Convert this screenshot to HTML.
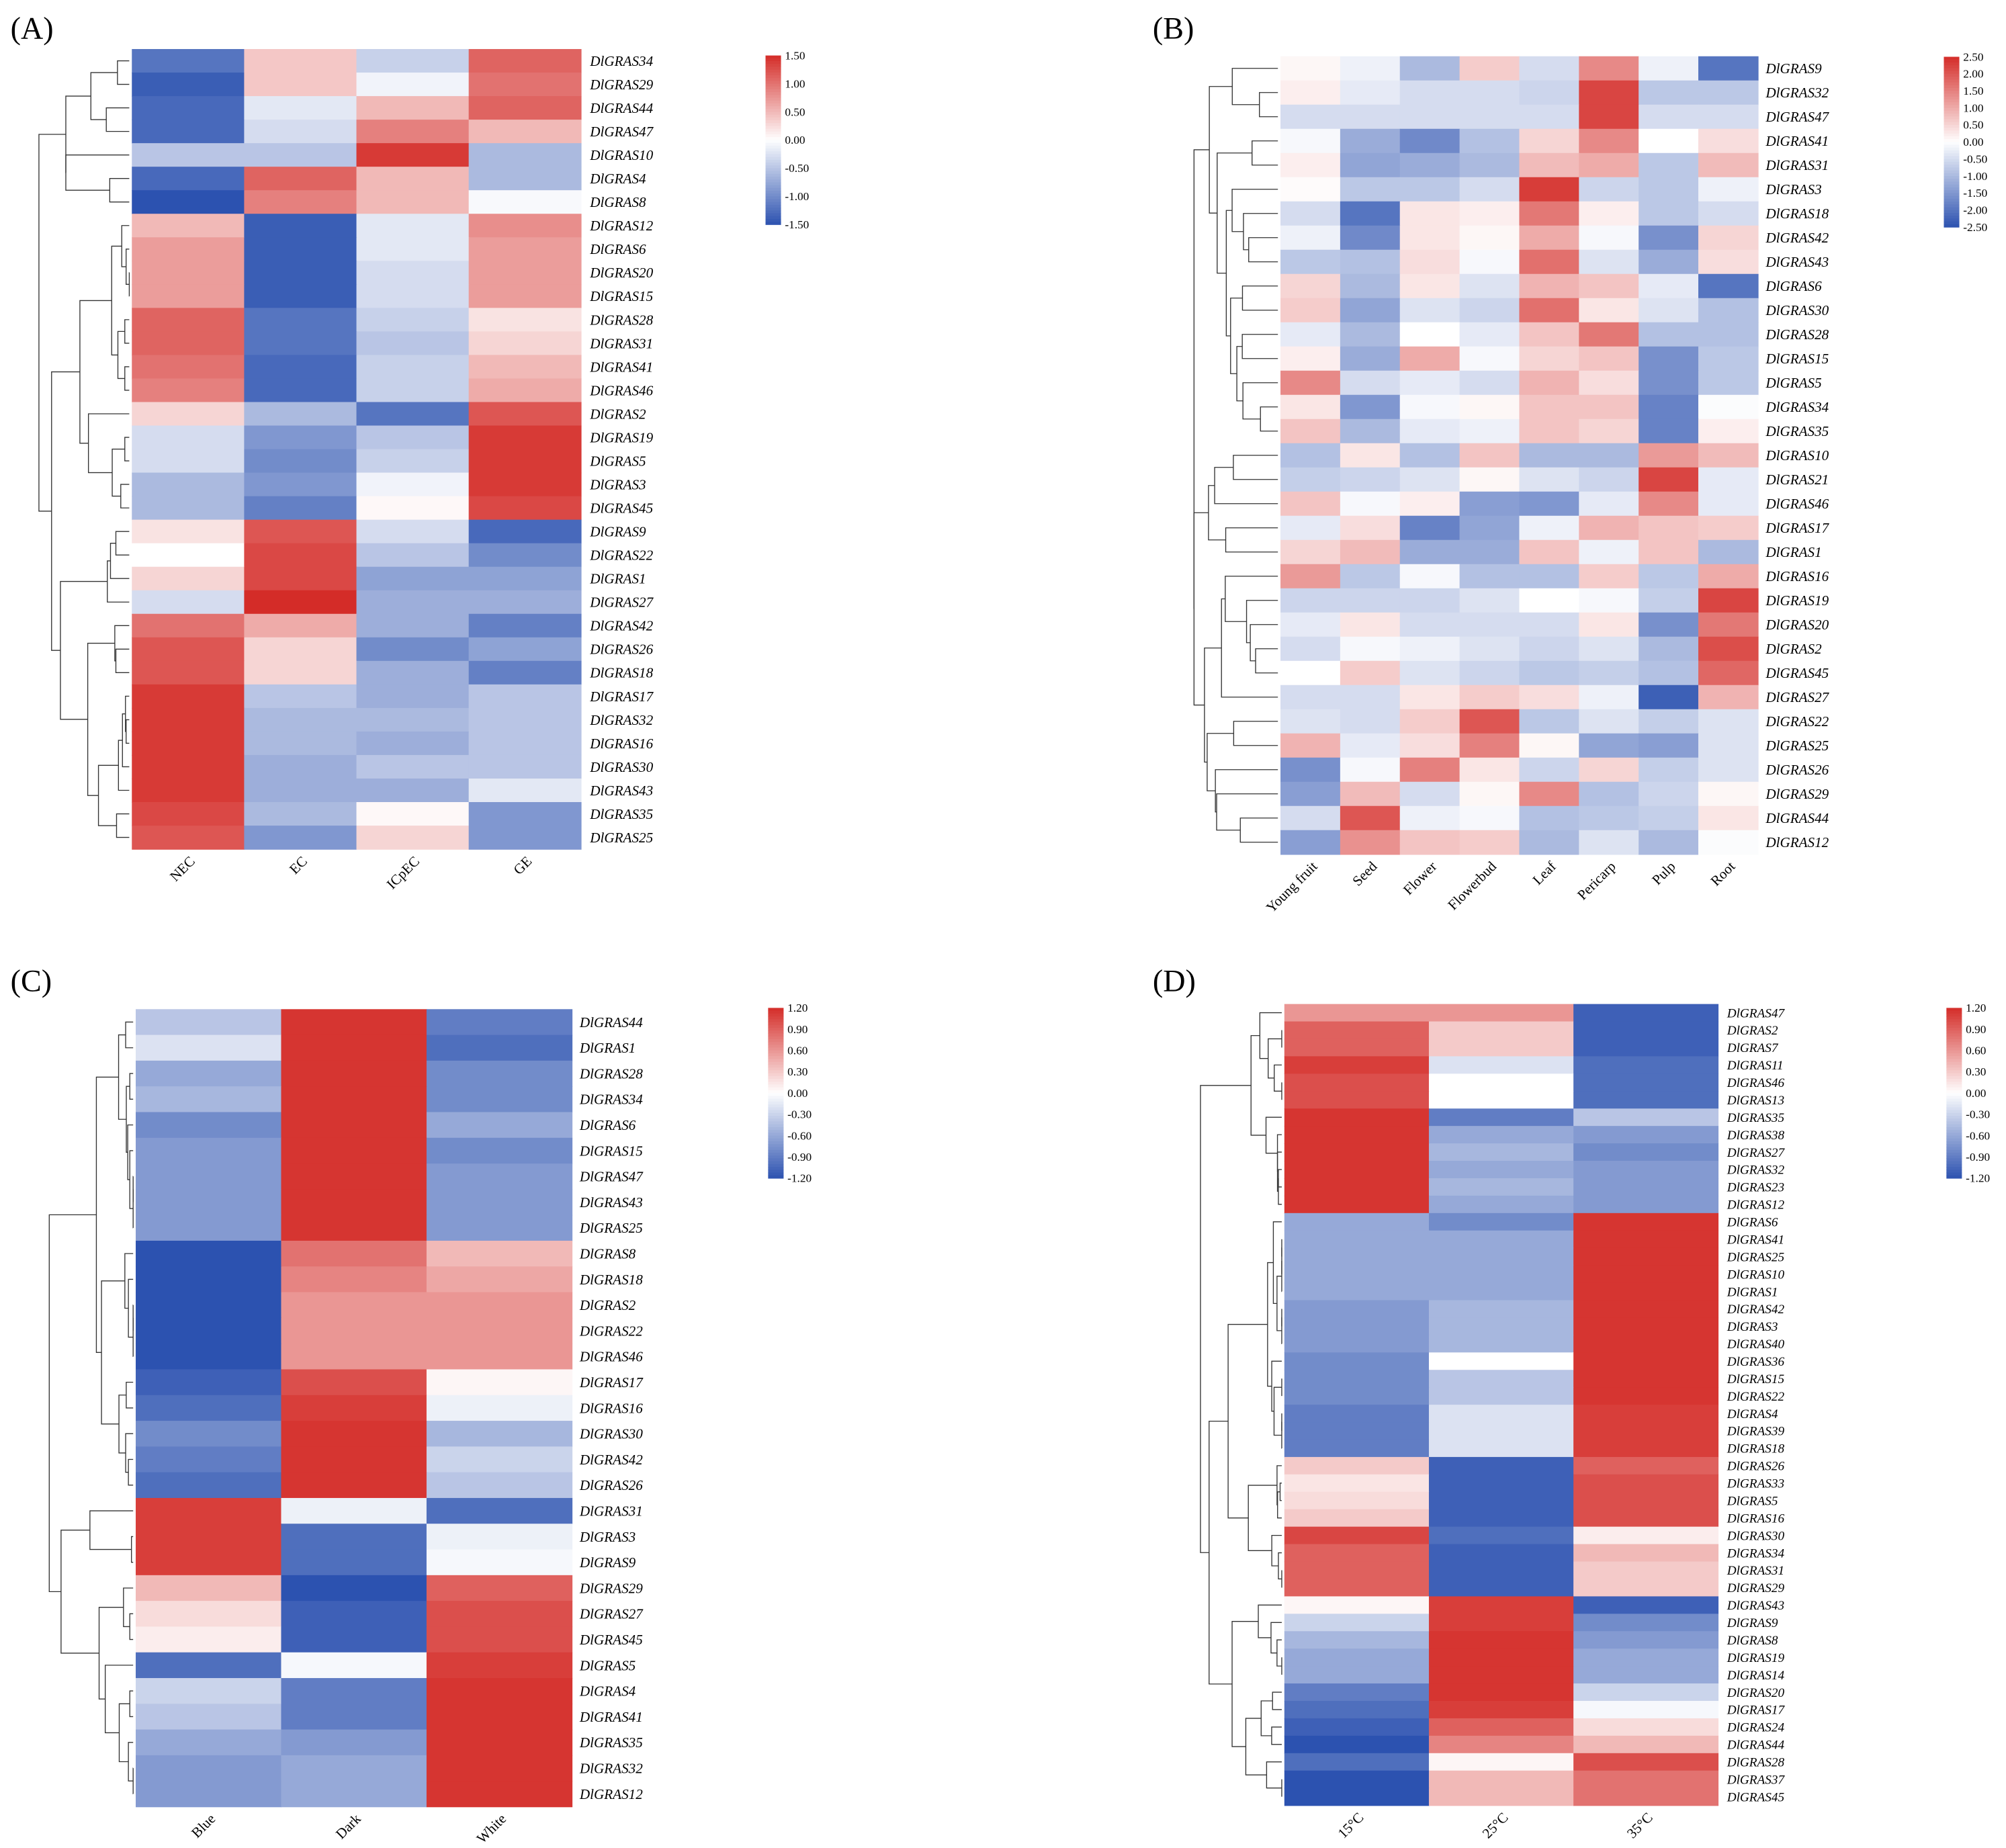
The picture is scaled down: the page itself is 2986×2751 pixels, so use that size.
<!DOCTYPE html>
<html><head><meta charset="utf-8"><style>
html,body{margin:0;padding:0;background:#fff;}
svg{display:block;}
</style></head><body>
<svg id="fig" xmlns="http://www.w3.org/2000/svg" width="2986" height="2751" viewBox="0 0 1554 1432">
<rect x="0" y="0" width="1554" height="1432" fill="#fff"/>
</svg>
<script>
const colsA = ["NEC","EC","ICpEC","GE"];
const rowsA = ["34","29","44","47","10","4","8","12","6","20","15","28","31","41","46","2","19","5","3","45","9","22","1","27","42","26","18","17","32","16","30","43","35","25"];
const valsA = [
[-1.2,0.4,-0.4,1.1],[-1.4,0.4,-0.1,1.0],[-1.3,-0.2,0.5,1.1],[-1.3,-0.3,0.9,0.5],[-0.5,-0.5,1.4,-0.6],
[-1.3,1.1,0.5,-0.6],[-1.5,0.9,0.5,-0.05],[0.5,-1.4,-0.2,0.8],[0.7,-1.4,-0.2,0.7],[0.7,-1.4,-0.3,0.7],
[0.7,-1.4,-0.3,0.7],[1.1,-1.2,-0.4,0.2],[1.1,-1.2,-0.5,0.3],[1.0,-1.3,-0.4,0.5],[0.9,-1.3,-0.4,0.6],
[0.3,-0.6,-1.2,1.2],[-0.3,-0.9,-0.5,1.4],[-0.3,-1.0,-0.4,1.4],[-0.6,-0.9,-0.1,1.4],[-0.6,-1.1,0.05,1.3],
[0.2,1.2,-0.3,-1.3],[0,1.3,-0.5,-1.0],[0.3,1.3,-0.8,-0.8],[-0.3,1.5,-0.7,-0.7],[1.0,0.6,-0.7,-1.1],
[1.2,0.3,-1.0,-0.8],[1.2,0.3,-0.7,-1.1],[1.4,-0.5,-0.7,-0.5],[1.4,-0.6,-0.6,-0.5],[1.4,-0.6,-0.7,-0.5],
[1.4,-0.7,-0.5,-0.5],[1.4,-0.7,-0.7,-0.2],[1.3,-0.6,0.05,-0.9],[1.2,-0.9,0.3,-0.9]];
const ticksA = [1.5,1.0,0.5,0.0,-0.5,-1.0,-1.5];

const colsB = ["Young fruit","Seed","Flower","Flowerbud","Leaf","Pericarp","Pulp","Root"];
const rowsB = ["9","32","47","41","31","3","18","42","43","6","30","28","15","5","34","35","10","21","46","17","1","16","19","20","2","45","27","22","25","26","29","44","12"];
const valsB = [
[0.1,-0.2,-1.0,0.6,-0.5,1.4,-0.2,-2.0],[0.2,-0.3,-0.5,-0.5,-0.6,2.2,-0.8,-0.8],[-0.5,-0.5,-0.5,-0.5,-0.5,2.2,-0.5,-0.5],
[-0.1,-1.2,-1.7,-0.9,0.5,1.4,0,0.4],[0.2,-1.3,-1.2,-1.0,0.8,1.0,-0.8,0.8],[0.05,-0.8,-0.8,-0.5,2.3,-0.6,-0.8,-0.2],
[-0.5,-2.0,0.3,0.2,1.6,0.2,-0.8,-0.5],[-0.2,-1.7,0.3,0.1,1.0,-0.1,-1.6,0.5],[-0.8,-0.9,0.4,-0.1,1.7,-0.4,-1.2,0.4],
[0.5,-1.0,0.3,-0.4,0.9,0.7,-0.3,-2.0],[0.6,-1.3,-0.4,-0.6,1.7,0.3,-0.4,-0.9],[-0.3,-1.0,0,-0.3,0.7,1.6,-0.9,-0.9],
[0.2,-1.2,1.0,-0.1,0.5,0.7,-1.6,-0.8],[1.4,-0.5,-0.3,-0.5,0.9,0.4,-1.6,-0.8],[0.3,-1.5,-0.1,0.1,0.7,0.7,-1.8,-0.05],
[0.7,-1.0,-0.3,-0.2,0.7,0.5,-1.8,0.2],[-0.9,0.3,-0.9,0.7,-1.0,-1.0,1.2,0.8],[-0.7,-0.6,-0.4,0.1,-0.4,-0.6,2.2,-0.3],
[0.7,-0.1,0.2,-1.4,-1.5,-0.3,1.4,-0.3],[-0.3,0.4,-1.8,-1.3,-0.2,0.9,0.7,0.6],[0.5,0.8,-1.2,-1.2,0.7,-0.2,0.7,-1.0],
[1.2,-0.8,-0.1,-0.9,-0.9,0.6,-0.8,1.0],[-0.6,-0.6,-0.6,-0.4,0,-0.1,-0.7,2.2],[-0.3,0.3,-0.5,-0.5,-0.5,0.3,-1.6,1.6],
[-0.5,-0.1,-0.2,-0.4,-0.6,-0.4,-1.0,2.1],[0,0.6,-0.4,-0.6,-0.8,-0.7,-0.9,1.8],[-0.5,-0.5,0.3,0.6,0.4,-0.2,-2.3,0.9],
[-0.4,-0.5,0.6,2.0,-0.8,-0.4,-0.7,-0.4],[0.9,-0.3,0.4,1.5,0.1,-1.3,-1.4,-0.4],[-1.6,-0.1,1.5,0.3,-0.6,0.5,-0.7,-0.4],
[-1.4,0.8,-0.5,0.1,1.4,-0.9,-0.6,0.1],[-0.5,2.0,-0.2,-0.1,-0.9,-0.8,-0.7,0.3],[-1.4,1.3,0.7,0.6,-1.0,-0.4,-1.0,-0.05]];
const ticksB = [2.5,2.0,1.5,1.0,0.5,0.0,-0.5,-1.0,-1.5,-2.0,-2.5];

const colsC = ["Blue","Dark","White"];
const rowsC = ["44","1","28","34","6","15","47","43","25","8","18","2","22","46","17","16","30","42","26","31","3","9","29","27","45","5","4","41","35","32","12"];
const valsC = [
[-0.4,1.15,-0.9],[-0.2,1.15,-1.0],[-0.6,1.15,-0.8],[-0.5,1.15,-0.8],[-0.8,1.15,-0.6],[-0.7,1.15,-0.8],
[-0.7,1.15,-0.7],[-0.7,1.15,-0.7],[-0.7,1.15,-0.7],[-1.2,0.8,0.4],[-1.2,0.7,0.5],[-1.2,0.6,0.6],
[-1.2,0.6,0.6],[-1.2,0.6,0.6],[-1.1,1.0,0.05],[-1.0,1.1,-0.1],[-0.8,1.15,-0.5],[-0.9,1.15,-0.3],
[-1.0,1.15,-0.4],[1.1,-0.1,-1.0],[1.1,-1.0,-0.1],[1.1,-1.0,-0.05],[0.4,-1.2,0.9],[0.2,-1.1,1.0],
[0.1,-1.1,1.0],[-1.0,-0.05,1.1],[-0.3,-0.9,1.15],[-0.4,-0.9,1.15],[-0.6,-0.7,1.15],[-0.7,-0.6,1.15],[-0.7,-0.6,1.15]];
const ticksC = [1.2,0.9,0.6,0.3,0.0,-0.3,-0.6,-0.9,-1.2];

const colsD = ["15°C","25°C","35°C"];
const rowsD = ["47","2","7","11","46","13","35","38","27","32","23","12","6","41","25","10","1","42","3","40","36","15","22","4","39","18","26","33","5","16","30","34","31","29","43","9","8","19","14","20","17","24","44","28","37","45"];
const valsD = [
[0.6,0.6,-1.1],[0.9,0.3,-1.1],[0.9,0.3,-1.1],[1.1,-0.2,-1.0],[1.0,0,-1.0],[1.0,0,-1.0],
[1.15,-0.9,-0.4],[1.15,-0.6,-0.7],[1.15,-0.5,-0.8],[1.15,-0.6,-0.7],[1.15,-0.5,-0.7],[1.15,-0.6,-0.7],
[-0.6,-0.8,1.15],[-0.6,-0.6,1.15],[-0.6,-0.6,1.15],[-0.6,-0.6,1.15],[-0.6,-0.6,1.15],[-0.7,-0.5,1.15],
[-0.7,-0.5,1.15],[-0.7,-0.5,1.15],[-0.8,0,1.15],[-0.8,-0.4,1.15],[-0.8,-0.4,1.15],[-0.9,-0.2,1.1],
[-0.9,-0.2,1.1],[-0.9,-0.2,1.1],[0.3,-1.1,0.9],[0.15,-1.1,1.0],[0.2,-1.1,1.0],[0.3,-1.1,1.0],
[1.05,-1.0,0.1],[0.9,-1.1,0.4],[0.9,-1.1,0.3],[0.9,-1.1,0.3],[0.05,1.1,-1.1],[-0.3,1.1,-0.8],
[-0.5,1.15,-0.7],[-0.6,1.15,-0.6],[-0.6,1.15,-0.6],[-0.9,1.15,-0.3],[-1.0,1.1,-0.05],[-1.1,0.9,0.2],
[-1.2,0.7,0.4],[-1.0,0.05,1.0],[-1.2,0.4,0.8],[-1.2,0.4,0.8]];
const ticksD = [1.2,0.9,0.6,0.3,0.0,-0.3,-0.6,-0.9,-1.2];

const NS = "http://www.w3.org/2000/svg";
const svg = document.getElementById("fig");
function mk(tag, attrs, parent){
  const e = document.createElementNS(NS, tag);
  for (const k in attrs) e.setAttribute(k, attrs[k]);
  (parent||svg).appendChild(e);
  return e;
}
function color(v, max){
  let t = Math.max(-1, Math.min(1, v/max));
  const W=[255,255,255], R=[212,44,40], B=[44,82,176];
  const E = t>=0 ? R : B; t = Math.abs(t);
  const c = W.map((w,i)=>Math.round(w+(E[i]-w)*t));
  return "rgb("+c.join(",")+")";
}
function dendro(g, vals, y0, rh, xL, xR){
  const dist=(a,b)=>{let s=0;for(let i=0;i<a.length;i++){const d=a[i]-b[i];s+=d*d;}return Math.sqrt(s);};
  let cl = vals.map((v,i)=>({members:[i], y:y0+rh*(i+0.5), h:0}));
  const merges=[];
  while(cl.length>1){
    let best=-1,bd=Infinity;
    for(let i=0;i<cl.length-1;i++){
      let s=0,n=0;
      for(const a of cl[i].members) for(const b of cl[i+1].members){s+=dist(vals[a],vals[b]);n++;}
      const d=s/n; if(d<bd){bd=d;best=i;}
    }
    const a=cl[best], b=cl[best+1];
    const h=Math.max(bd, a.h, b.h)+1e-6;
    const m={members:a.members.concat(b.members), y:(a.y+b.y)/2, h:h, a:a, b:b};
    merges.push(m);
    cl.splice(best,2,m);
  }
  const maxH = cl[0].h;
  const X = h => xR - (xR-xL)*(h/maxH);
  for(const m of merges){
    const p = mk("path",{d:"M"+X(m.a.h)+","+m.a.y+"H"+X(m.h)+"V"+m.b.y+"H"+X(m.b.h), fill:"none", stroke:"#333", "stroke-width":"0.7"}, g);
    
    
  }
}
function panel(o){
  const g = mk("g",{});
  
  
  const lt = mk("text",{x:o.lx,y:o.ly,"font-family":"Liberation Serif, serif","font-size":"24",fill:"#000"},g);
  lt.textContent="("+o.id+")";
  
  
  const nr=o.rows.length, nc=o.cols.length;
  const cw=(o.x1-o.x0)/nc, rh=(o.y1-o.y0)/nr;
  for(let r=0;r<nr;r++){
    for(let c=0;c<nc;c++){
      const cell = mk("rect",{x:o.x0+c*cw,y:o.y0+r*rh,width:cw+0.4,height:rh+0.4,fill:color(o.vals[r][c],o.max)},g);
      
      
    }
    const t = mk("text",{x:o.lblX,y:o.y0+rh*(r+0.5)+o.fs*0.35,"font-family":"Liberation Serif, serif","font-size":o.fs,"font-style":"italic",fill:"#000"},g);
    t.textContent="DlGRAS"+o.rows[r];
    
    
  }
  for(let c=0;c<nc;c++){
    const cx=o.x0+cw*(c+0.5)+6, cy=o.y1+10;
    const t = mk("text",{x:cx,y:cy,"font-family":"Liberation Serif, serif","font-size":"11","text-anchor":"end",fill:"#000",transform:"rotate(-45 "+cx+" "+cy+")"},g);
    t.textContent=o.cols[c];
    
    
  }
  dendro(g, o.vals, o.y0, rh, o.dL, o.x0-2);
  // colorbar
  const cb = mk("g",{},g);
  
  
  const steps=60;
  for(let i=0;i<steps;i++){
    const v=o.max-(2*o.max)*(i+0.5)/steps;
    mk("rect",{x:o.cbx,y:o.cby+o.cbh*i/steps,width:12,height:o.cbh/steps+0.3,fill:color(v,o.max)},cb);
  }
  o.ticks.forEach(v=>{
    const y=o.cby+o.cbh*(o.max-v)/(2*o.max);
    const t = mk("text",{x:o.cbx+15,y:y+3,"font-family":"Liberation Serif, serif","font-size":"9",fill:"#000"},cb);
    t.textContent=(v===0?"0.00":v.toFixed(2));
    
    
  });
}
panel({id:"A",lx:8,ly:30,rows:rowsA,cols:colsA,vals:valsA,max:1.5,ticks:ticksA,x0:102,x1:450,y0:38,y1:658,lblX:457,fs:11,dL:30,cbx:593,cby:43,cbh:131});
panel({id:"B",lx:893,ly:30,rows:rowsB,cols:colsB,vals:valsB,max:2.5,ticks:ticksB,x0:992,x1:1362,y0:43.6,y1:662,lblX:1368,fs:11,dL:925,cbx:1506,cby:44,cbh:132});
panel({id:"C",lx:8,ly:768,rows:rowsC,cols:colsC,vals:valsC,max:1.2,ticks:ticksC,x0:105,x1:443,y0:782,y1:1400,lblX:449,fs:11,dL:38,cbx:595,cby:781,cbh:132});
panel({id:"D",lx:893,ly:768,rows:rowsD,cols:colsD,vals:valsD,max:1.2,ticks:ticksD,x0:995,x1:1331,y0:778,y1:1399,lblX:1338,fs:10,dL:930,cbx:1508,cby:781,cbh:132});
</script>
</body></html>
